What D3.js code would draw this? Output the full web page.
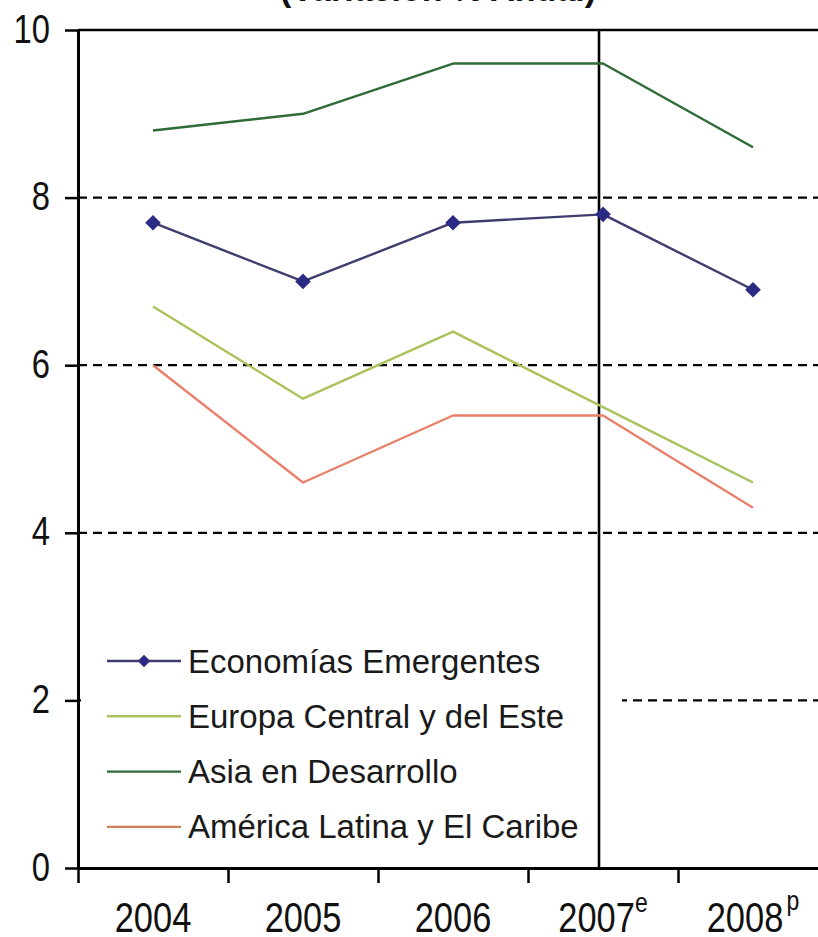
<!DOCTYPE html>
<html>
<head>
<meta charset="utf-8">
<script src="https://cdn.jsdelivr.net/npm/d3@7"></script>
<style>
  html, body { margin: 0; padding: 0; background: #ffffff; overflow: hidden; }
  svg { display: block; font-family: "Liberation Sans", Arial, sans-serif; }
</style>
</head>
<body>
<svg id="chart" width="818" height="937"></svg>
<script>
// Growth of emerging regions, annual % change
const years = ["2004", "2005", "2006", "2007", "2008"];
const yearMarks = ["", "", "", "e", "p"];          // e = estimate, p = projection
const emergentes = [7.7, 7.0, 7.7, 7.8, 6.9];
const europa = [6.7, 5.6, 6.4, 5.5, 4.6];
const asia = [8.8, 9.0, 9.6, 9.6, 8.6];
const latam = [6.0, 4.6, 5.4, 5.4, 4.3];
const seriesNames = [
  "Economías Emergentes",
  "Europa Central y del Este",
  "Asia en Desarrollo",
  "América Latina y El Caribe"
];
const yTicks = [0, 2, 4, 6, 8, 10];
const dashedTicks = [8, 6, 4, 2];
const title = "(Variación % Anual)";
const splitYear = "2007";

const series = [
  { name: seriesNames[0], values: emergentes, color: "#3d3d6e", marker: "#2b2b86" },
  { name: seriesNames[1], values: europa, color: "#a9c25c" },
  { name: seriesNames[2], values: asia, color: "#2f6b37" },
  { name: seriesNames[3], values: latam, color: "#e8806a", legendColor: "#c98254" }
];

const svg = d3.select("#chart");
const plotLeft = 78, plotRight = 828, plotTop = 30, plotBottom = 868;

const x = d3.scaleBand().domain(years).range([plotLeft, plotRight]).paddingInner(0).paddingOuter(0);
const edge = d3.scaleLinear().domain([0, years.length]).range([plotLeft, plotRight]);
const y = d3.scaleLinear().domain([0, 10]).range([plotBottom, plotTop]);
const cx = d => x(d) + x.bandwidth() / 2;

// Title (sits above the plot, mostly outside the canvas)
svg.append("text")
  .attr("x", 438).attr("y", 1)
  .attr("text-anchor", "middle")
  .attr("font-size", 34).attr("font-weight", "bold")
  .attr("fill", "#111")
  .text(title);

// Dashed gridlines
svg.append("g").selectAll("line").data(dashedTicks).join("line")
  .attr("x1", plotLeft).attr("x2", plotRight)
  .attr("y1", d => y(d)).attr("y2", d => y(d))
  .attr("stroke", "#000").attr("stroke-width", 2.2)
  .attr("stroke-dasharray", "9,6");

// Top border at 10
svg.append("line")
  .attr("x1", plotLeft).attr("x2", plotRight)
  .attr("y1", y(10)).attr("y2", y(10))
  .attr("stroke", "#000").attr("stroke-width", 2.5);

// Legend background
const legendX = 107, legendY0 = 661, legendStep = 55.3;
svg.append("rect")
  .attr("x", plotLeft + 3).attr("y", y(2) - 75)
  .attr("width", 622 - plotLeft - 3).attr("height", 220)
  .attr("fill", "#fff");

// Vertical separator before estimated years
const splitX = cx(splitYear) - 4;
svg.append("line")
  .attr("x1", splitX).attr("x2", splitX)
  .attr("y1", y(10)).attr("y2", y(0))
  .attr("stroke", "#000").attr("stroke-width", 2.6);

// Y axis
const yAxis = svg.append("g")
  .attr("transform", `translate(${plotLeft},0)`)
  .call(d3.axisLeft(y).tickValues(yTicks).tickSize(13).tickSizeOuter(0).tickFormat(d3.format("d")));
yAxis.select(".domain").attr("stroke", "#000").attr("stroke-width", 3);
yAxis.selectAll(".tick line").attr("stroke", "#000").attr("stroke-width", 2.5);
yAxis.selectAll(".tick text")
  .attr("x", 0).attr("dy", "0.3em")
  .attr("transform", "translate(-28,0) scale(0.82,1)")
  .attr("font-size", 40)
  .attr("font-family", "'Liberation Sans', Arial, sans-serif")
  .attr("fill", "#111");

// X axis: ticks on category boundaries
const xAxis = svg.append("g")
  .attr("transform", `translate(0,${plotBottom})`)
  .call(d3.axisBottom(edge).tickValues(d3.range(years.length + 1)).tickSize(15).tickSizeOuter(0).tickFormat(""));
xAxis.select(".domain").attr("stroke", "#000").attr("stroke-width", 3);
xAxis.selectAll(".tick line").attr("stroke", "#000").attr("stroke-width", 2.5);

// Category labels centred on each band
const xl = svg.append("g").selectAll("g").data(years).join("g")
  .attr("transform", d => `translate(${cx(d)},932) scale(0.82,1)`);
const xt = xl.append("text")
  .attr("text-anchor", "middle")
  .attr("font-size", 42)
  .attr("fill", "#111");
xt.append("tspan").text(d => d);
xt.append("tspan")
  .attr("font-size", 28)
  .attr("dy", (d, i) => yearMarks[i] === "p" ? -22 : -20)
  .attr("dx", (d, i) => yearMarks[i] === "p" ? 4 : 0)
  .text((d, i) => yearMarks[i]);

// Series lines
const line = d3.line().x((d, i) => cx(years[i])).y(d => y(d));
svg.append("g").selectAll("path").data(series).join("path")
  .attr("d", s => line(s.values))
  .attr("fill", "none")
  .attr("stroke", s => s.color)
  .attr("stroke-width", 2.4)
  .attr("stroke-linejoin", "round");

// Diamond markers on the emerging-economies series
const diamond = d3.symbol().type(d3.symbolDiamond2).size(155);
svg.append("g").selectAll("path").data(emergentes).join("path")
  .attr("d", diamond)
  .attr("transform", (d, i) => `translate(${cx(years[i])},${y(d)})`)
  .attr("fill", series[0].marker);

// Legend entries
const lg = svg.append("g").selectAll("g").data(series).join("g")
  .attr("transform", (d, i) => `translate(0,${legendY0 + i * legendStep})`);
lg.append("line")
  .attr("x1", legendX).attr("x2", 181)
  .attr("stroke", s => s.legendColor || s.color)
  .attr("stroke-width", 2.4);
lg.filter((d, i) => i === 0).append("path")
  .attr("d", d3.symbol().type(d3.symbolDiamond2).size(100))
  .attr("transform", "translate(144,0)")
  .attr("fill", series[0].marker);
lg.append("text")
  .attr("x", 188).attr("y", 0).attr("dy", "0.35em")
  .attr("font-size", 33)
  .attr("fill", "#1a1a1a")
  .text(s => s.name);
</script>
</body>
</html>
